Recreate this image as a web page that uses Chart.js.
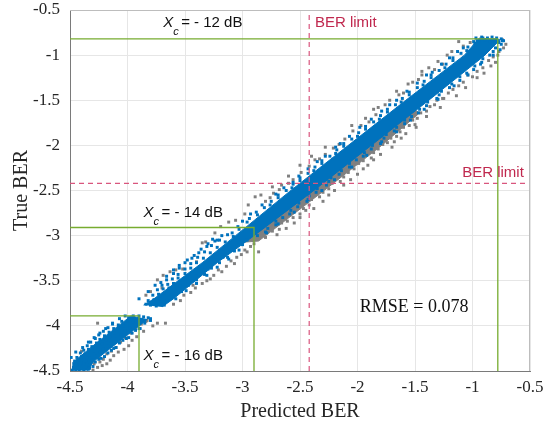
<!DOCTYPE html>
<html><head><meta charset="utf-8">
<script src="https://cdn.jsdelivr.net/npm/chart.js@4/dist/chart.umd.min.js"></script>
<style>html,body{margin:0;padding:0;background:#fff}#wrap{width:546px;height:427px}</style>
</head><body><div id="wrap"><canvas id="c" width="546" height="427"></canvas></div>
<script>
// ---------- data (predicted BER, true BER), log10 values ----------
const xTickLabels = ['-4.5','-4','-3.5','-3','-2.5','-2','-1.5','-1','-0.5'];
const yTickLabels = ['-4.5','-4','-3.5','-3','-2.5','-2','-1.5','-1','-0.5'];

const berLimit = -2.42;
const xcNames = ['= - 12 dB','= - 14 dB','= - 16 dB'];
const xcPred  = [-0.78, -2.90, -3.90];
const xcTrue  = [-0.82, -2.91, -3.89];
const rmseText = 'RMSE = 0.078';

// dense core of the blue cloud (outline of the solid region)
const blueCoreLow = [[-4.48,-4.49],[-4.34,-4.49],[-4.30,-4.40],[-4.10,-4.20],[-3.90,-4.00],[-3.83,-3.93],[-3.97,-3.89],[-4.08,-4.00],[-4.28,-4.20],[-4.48,-4.41]];
const blueCoreMain = [[-3.70,-3.79],[-3.60,-3.70],[-3.22,-3.30],[-2.92,-3.02],[-2.39,-2.51],[-1.89,-2.01],[-1.39,-1.51],[-0.90,-1.01],[-0.76,-0.83],[-0.94,-0.81],[-1.07,-1.00],[-1.58,-1.50],[-2.09,-2.01],[-2.59,-2.51],[-3.06,-3.00],[-3.35,-3.30],[-3.77,-3.70],[-3.86,-3.77]];
// dense core of the grey cloud (lower-right fringe)
const greyCore = [[-3.06,-3.08],[-2.86,-3.06],[-2.29,-2.50],[-1.79,-2.00],[-1.46,-1.64],[-1.56,-1.56],[-2.00,-2.00],[-2.50,-2.50],[-3.06,-3.06]];

const blueLowCluster = [[-4.48,-4.49],[-4.45,-4.50],[-4.42,-4.50],[-4.38,-4.49],[-4.34,-4.48],[-4.47,-4.46],[-4.43,-4.47],[-4.40,-4.45],[-4.36,-4.46],[-4.45,-4.42],[-4.41,-4.43],[-4.38,-4.41],[-4.33,-4.43],[-4.46,-4.39],[-4.42,-4.38],[-4.36,-4.39],[-4.31,-4.40],
[-4.44,-4.35],[-4.40,-4.34],[-4.35,-4.36],[-4.30,-4.35],[-4.41,-4.30],[-4.37,-4.31],[-4.33,-4.32],[-4.27,-4.33],[-4.38,-4.27],[-4.34,-4.26],[-4.29,-4.28],[-4.24,-4.29],[-4.35,-4.22],[-4.31,-4.23],[-4.26,-4.24],[-4.21,-4.26],[-4.32,-4.18],[-4.27,-4.19],[-4.22,-4.20],[-4.17,-4.22],
[-4.28,-4.14],[-4.24,-4.15],[-4.19,-4.16],[-4.14,-4.18],[-4.25,-4.10],[-4.20,-4.11],[-4.15,-4.12],[-4.10,-4.15],[-4.21,-4.06],[-4.16,-4.07],[-4.11,-4.08],[-4.06,-4.10],[-4.17,-4.02],[-4.12,-4.03],[-4.07,-4.04],[-4.02,-4.06],[-4.13,-3.98],[-4.08,-3.99],[-4.03,-4.00],[-3.98,-4.02],[-4.05,-3.95],[-4.00,-3.95],[-3.95,-3.96],[-3.90,-3.98],[-3.99,-3.91],[-3.94,-3.92],[-3.89,-3.93],[-3.85,-3.94],[-3.95,-3.89],[-3.90,-3.89],[-3.86,-3.90],[-3.82,-3.91],
[-4.33,-4.47],[-4.28,-4.40],[-4.23,-4.36],[-4.17,-4.30],[-4.12,-4.25],[-4.07,-4.19],[-4.01,-4.14],[-3.96,-4.08],[-3.90,-4.03],[-3.85,-3.97],[-3.80,-3.92],[-4.25,-4.37],[-4.14,-4.27],[-4.04,-4.16],[-3.93,-4.05],
[-4.49,-4.35],[-4.45,-4.29],[-4.39,-4.24],[-4.34,-4.18],[-4.29,-4.13],[-4.24,-4.08],[-4.19,-4.03],[-4.13,-3.97],[-4.07,-3.92],[-4.02,-3.89],[-4.30,-4.45],[-4.20,-4.34],[-4.10,-4.24],[-3.99,-4.13],[-3.89,-4.03],[-3.80,-3.94]];

const blueUpCluster = [[-3.84,-3.76],[-3.80,-3.77],[-3.75,-3.78],[-3.70,-3.76],[-3.82,-3.72],[-3.77,-3.71],[-3.72,-3.70],[-3.66,-3.72],[-3.78,-3.66],[-3.73,-3.65],[-3.68,-3.64],[-3.62,-3.66],[-3.74,-3.60],[-3.69,-3.59],[-3.64,-3.58],[-3.58,-3.61],[-3.70,-3.55],[-3.65,-3.54],[-3.60,-3.53],[-3.54,-3.56],[-3.66,-3.49],[-3.61,-3.48],[-3.56,-3.47],[-3.50,-3.51],[-3.60,-3.42],[-3.56,-3.43],[-3.50,-3.42],[-3.46,-3.46],[-3.55,-3.36],[-3.50,-3.37],[-3.45,-3.36],[-3.40,-3.41],[-3.50,-3.30],[-3.45,-3.31],[-3.40,-3.30],[-3.35,-3.36],[-3.44,-3.25],[-3.39,-3.24],[-3.34,-3.25],[-3.29,-3.30],[-3.38,-3.19],[-3.33,-3.18],[-3.28,-3.19],[-3.23,-3.24],[-3.31,-3.12],[-3.27,-3.11],[-3.22,-3.13],[-3.17,-3.18],[-3.24,-3.06],[-3.20,-3.05],[-3.15,-3.07],[-3.10,-3.12],[-3.18,-3.00],[-3.13,-2.99],[-3.08,-3.01],[-3.03,-3.07],
[-3.68,-3.77],[-3.60,-3.68],[-3.53,-3.62],[-3.47,-3.55],[-3.40,-3.49],[-3.33,-3.43],[-3.27,-3.36],[-3.20,-3.30],[-3.13,-3.24],[-3.07,-3.17],[-3.00,-3.10],[-2.96,-3.05],[-3.56,-3.63],[-3.43,-3.50],[-3.30,-3.37],[-3.17,-3.24],
[-3.90,-3.70],[-3.82,-3.62],[-3.76,-3.55],[-3.71,-3.52],[-3.66,-3.45],[-3.60,-3.38],[-3.55,-3.33],[-3.48,-3.27],[-3.42,-3.22],[-3.36,-3.15],[-3.30,-3.09],[-3.26,-3.04],[-3.58,-3.70],[-3.49,-3.61],[-3.40,-3.53],[-3.31,-3.44],[-3.22,-3.35],[-3.12,-3.26],[-3.03,-3.16]];

const blueUpperFringe = [[-3.09,-2.97],[-3.03,-2.93],[-3.04,-2.90],[-2.96,-2.85],[-2.94,-2.81],[-2.87,-2.77],[-2.88,-2.74],[-2.81,-2.69],[-2.76,-2.66],[-2.75,-2.62],[-2.69,-2.58],[-2.69,-2.55],[-2.62,-2.50],[-2.57,-2.47],[-2.56,-2.43],[-2.50,-2.39],[-2.50,-2.36],[-2.43,-2.31],[-2.38,-2.28],[-2.37,-2.24],[-2.31,-2.20],[-2.31,-2.17],[-2.24,-2.12],[-2.19,-2.09],[-2.18,-2.05],[-2.12,-2.01],[-2.12,-1.98],[-2.05,-1.93],[-2.00,-1.90],[-1.99,-1.86],[-1.93,-1.82],[-1.93,-1.79],[-1.86,-1.74],[-1.81,-1.71],[-1.80,-1.67],[-1.74,-1.63],[-1.74,-1.60],[-1.67,-1.55],[-1.62,-1.52],[-1.61,-1.48],[-1.55,-1.44],[-1.55,-1.41],[-1.48,-1.36],[-1.43,-1.33],[-1.42,-1.29],[-1.36,-1.25],[-1.36,-1.22],[-1.29,-1.17],[-1.24,-1.14],[-1.23,-1.10],[-1.17,-1.06],[-1.17,-1.03],[-1.10,-0.98],[-1.05,-0.95],[-1.04,-0.91],[-0.98,-0.87],[-0.96,-0.84],[-0.91,-0.81],
[-2.83,-2.66],[-2.51,-2.34],[-2.19,-2.02],[-1.88,-1.71],[-1.57,-1.40],[-1.27,-1.10],[-1.08,-0.92],[-3.22,-3.05],[-2.35,-2.18],[-1.72,-1.55],
[-3.00,-2.84],[-2.93,-2.76],[-2.71,-2.54],[-2.64,-2.47],[-2.43,-2.26],[-2.28,-2.12],[-2.07,-1.90],[-1.98,-1.80],[-1.79,-1.62],[-1.66,-1.50],[-1.48,-1.31],[-1.40,-1.22],[-1.20,-1.03],[-1.13,-0.96],[-2.56,-2.41],[-2.15,-1.98],[-1.35,-1.19],[-0.99,-0.85]];

const blueLowerFringe = [[-2.87,-3.00],[-2.80,-2.96],[-2.78,-2.92],[-2.71,-2.88],[-2.71,-2.84],[-2.65,-2.80],[-2.59,-2.76],[-2.58,-2.72],[-2.52,-2.68],[-2.51,-2.64],[-2.43,-2.60],[-2.42,-2.56],[-2.36,-2.52],[-2.35,-2.48],[-2.27,-2.44],[-2.25,-2.40],[-2.23,-2.36],[-2.16,-2.32],[-2.14,-2.28],[-2.07,-2.24],[-2.07,-2.20],[-2.01,-2.16],[-1.95,-2.12],[-1.94,-2.08],[-1.88,-2.04],[-1.87,-2.00],[-1.79,-1.96],[-1.77,-1.92],[-1.75,-1.88],[-1.68,-1.84],[-1.66,-1.80],[-1.59,-1.76],[-1.59,-1.72],[-1.53,-1.68],[-1.47,-1.64],[-1.46,-1.60],[-1.40,-1.56],[-1.39,-1.52],[-1.31,-1.48],[-1.29,-1.44],[-1.27,-1.40],[-1.20,-1.36],[-1.18,-1.32],[-1.11,-1.28],[-1.11,-1.24],[-1.05,-1.20],[-0.99,-1.16],[-0.98,-1.12],[-0.92,-1.08],[-0.91,-1.04],[-0.85,-1.00],[-0.82,-0.96],[-0.80,-0.92],[-0.75,-0.88],[-0.74,-0.84],
[-0.97,-0.81],[-0.92,-0.80],[-0.87,-0.81],[-0.83,-0.80],[-0.79,-0.81],[-0.75,-0.82],[-0.73,-0.84],[-0.77,-0.86],[-0.81,-0.83],[-0.89,-0.83],[-0.85,-0.85],[-0.94,-0.84],
[-2.79,-2.97],[-2.69,-2.87],[-2.55,-2.74],[-2.44,-2.62],[-2.31,-2.50],[-2.20,-2.38],[-2.05,-2.24],[-1.92,-2.11],[-1.80,-1.98],[-1.66,-1.85],[-1.54,-1.72],[-1.42,-1.60],[-1.30,-1.49],[-1.16,-1.34],[-1.04,-1.22],[-0.93,-1.10],[-0.82,-1.00],[-0.76,-0.94]];

const greyLowCluster = [[-4.30,-4.49],[-4.26,-4.46],[-4.29,-4.42],[-4.24,-4.40],[-4.21,-4.37],[-4.25,-4.34],[-4.18,-4.31],[-4.14,-4.28],[-4.19,-4.26],[-4.10,-4.24],[-4.13,-4.20],[-4.06,-4.18],[-4.09,-4.15],[-4.02,-4.13],[-4.05,-4.09],[-3.97,-4.08],[-4.00,-4.04],[-3.93,-4.02],[-3.95,-3.99],[-3.88,-3.98],[-3.84,-3.95],[-3.80,-3.93],[-3.83,-3.94],[-3.74,-3.97],[-3.67,-3.97],[-4.26,-3.97],[-4.40,-4.28],[-4.12,-4.33],[-4.35,-4.47],
[-4.22,-4.44],[-4.08,-4.29],[-3.96,-4.16],[-3.86,-4.06],[-4.18,-4.42],[-4.03,-4.26],[-3.92,-4.12],[-3.78,-4.00],[-4.15,-4.38],[-3.99,-4.22]];

const greyUpCluster = [[-3.60,-3.76],[-3.54,-3.72],[-3.51,-3.66],[-3.45,-3.63],[-3.41,-3.58],[-3.43,-3.55],[-3.35,-3.53],[-3.31,-3.50],[-3.25,-3.44],[-3.18,-3.40],[-3.14,-3.34],[-3.07,-3.31],[-3.21,-3.38],[-3.01,-3.21],[-2.98,-3.16],[-3.05,-3.24],[-2.93,-3.12],[-2.90,-3.09],[-2.96,-3.18],[-3.28,-3.48],[-3.10,-3.28],
[-3.84,-3.66],[-3.80,-3.62],[-3.74,-3.49],[-3.69,-3.44],[-3.63,-3.40],[-3.58,-3.38],[-3.40,-3.29],[-3.35,-3.08],[-3.32,-3.07],[-3.24,-2.97],[-3.19,-2.90],[-3.12,-2.85],[-3.06,-2.83],[-3.70,-3.58],[-3.52,-3.37]];

const greyMiddle = [[-2.80,-3.02],[-2.74,-2.95],[-2.68,-2.93],[-2.66,-2.86],[-2.61,-2.84],[-2.56,-2.80],[-2.50,-2.76],[-2.47,-2.70],[-2.42,-2.66],[-2.40,-2.60],[-2.33,-2.57],[-2.30,-2.52],[-2.25,-2.48],[-2.22,-2.42],[-2.15,-2.40],[-2.12,-2.35],[-2.08,-2.30],[-2.03,-2.26],[-1.99,-2.20],[-1.95,-2.17],[-1.88,-2.14],[-1.86,-2.08],[-1.82,-2.04],[-1.78,-1.99],[-2.55,-2.86],[-2.30,-2.62],[-2.06,-2.38],[-1.86,-2.16],[-2.70,-2.99],[-2.45,-2.72],[-2.20,-2.50],[-1.95,-2.26],
[-2.89,-2.57],[-2.84,-2.55],[-2.80,-2.62],[-2.76,-2.58],[-2.73,-2.53],[-2.68,-2.49],[-2.66,-2.44],[-2.60,-2.42],[-2.56,-2.38],[-2.49,-2.30],[-2.42,-2.23],[-2.33,-2.15],[-2.28,-2.10],[-2.21,-2.03],[-2.16,-1.99],[-2.11,-1.93],[-2.60,-2.34],[-2.37,-2.16],
[-1.74,-1.97],[-1.71,-1.92],[-1.66,-1.90],[-1.63,-1.85],[-1.60,-1.80],[-1.55,-1.78],[-1.52,-1.72],[-1.48,-1.70],[-1.45,-1.64],[-1.40,-1.62],[-1.37,-1.57],[-1.33,-1.55],[-1.31,-1.50],[-1.26,-1.48],[-1.58,-1.87],[-1.40,-1.68],[-1.68,-1.96],[-1.50,-1.77],
[-2.04,-1.84],[-1.97,-1.78],[-1.93,-1.70],[-1.84,-1.66],[-1.76,-1.55],[-1.72,-1.50],[-1.64,-1.44],[-1.82,-1.58],[-1.90,-1.74],[-1.60,-1.42],
[-2.62,-2.92],[-2.38,-2.70],[-2.12,-2.44],[-1.91,-2.22],[-1.70,-2.02],[-1.49,-1.80],[-1.28,-1.58],[-2.86,-3.18],[-2.50,-2.80],[-1.80,-2.10],[-1.62,-1.92],[-2.25,-2.55],[-2.00,-2.32],
[-2.95,-2.66],[-2.74,-2.46],[-2.50,-2.22],[-2.28,-2.02],[-2.05,-1.78],[-1.86,-1.60],[-1.66,-1.40],[-1.44,-1.18],[-2.98,-2.76],[-2.40,-2.12],[-1.56,-1.32]];

const greyTop = [[-1.12,-0.85],[-1.08,-0.90],[-1.22,-1.00],[-1.30,-1.07],[-1.38,-1.14],[-1.44,-1.22],[-1.52,-1.30],[-1.33,-1.16],[-1.02,-0.86],[-1.18,-0.96],[-1.26,-1.10],[-1.47,-1.27],
[-0.74,-0.83],[-0.71,-0.88],[-0.73,-0.92],[-0.77,-0.96],[-0.82,-1.02],[-0.80,-1.08],[-0.86,-1.06],[-0.91,-1.14],[-0.96,-1.18],[-1.00,-1.24],[-1.04,-1.22],[-1.08,-1.30],[-1.12,-1.34],[-1.17,-1.38],[-1.21,-1.42],[-1.25,-1.48],[-0.96,-1.25],[-1.14,-1.45],[-0.84,-1.12],[-0.78,-1.00],[-0.90,-1.20],[-1.06,-1.36]];

// ---------- styling ----------
const BLUE = '#0072BD', GREY = '#808080', GREEN = '#77AC30', LIMIT = '#D9567E', LIMIT_TXT = '#C0284E';
const SERIF = '"Liberation Serif", "Times New Roman", serif';
const SANS = '"Liberation Sans", Arial, sans-serif';
const toXY = a => a.map(p => ({x: p[0], y: p[1]}));

const pts = (arr, color, order) => ({data: toXY(arr), backgroundColor: color, borderWidth: 0, pointStyle: 'rect', pointRadius: 2.1, showLine: false, order});
const poly = (arr, color, order) => ({data: toXY(arr), backgroundColor: color, borderColor: color, borderWidth: 1, pointRadius: 0, showLine: true, fill: 'shape', tension: 0, order});
const seg = (arr, color, dash, order, w) => ({data: toXY(arr), borderColor: color, borderWidth: w, borderDash: dash, pointRadius: 0, showLine: true, fill: false, order});

const datasets = [];
datasets.push(pts(greyLowCluster.concat(greyUpCluster, greyMiddle, greyTop), GREY, 9));
datasets.push(poly(greyCore, GREY, 8));
datasets.push(poly(blueCoreLow, BLUE, 7));
datasets.push(poly(blueCoreMain, BLUE, 6));
datasets.push(pts(blueLowCluster.concat(blueUpCluster, blueUpperFringe, blueLowerFringe), BLUE, 5));
datasets.push(seg([[berLimit,-4.5],[berLimit,-0.5]], LIMIT, [5,4], 2, 1.2));
datasets.push(seg([[-4.5,berLimit],[-0.5,berLimit]], LIMIT, [5,4], 2, 1.2));
xcPred.forEach((p,i) => datasets.push(seg([[-4.5,xcTrue[i]],[p,xcTrue[i]],[p,-4.5]], GREEN, [], 1, 1.3)));

const labels = [
  {type:'xc', text: xcNames[0], x:-3.69, y:-0.645},
  {type:'xc', text: xcNames[1], x:-3.86, y:-2.75},
  {type:'xc', text: xcNames[2], x:-3.86, y:-4.33},
  {type:'limit', text:'BER limit', x:-2.37, y:-0.645},
  {type:'limit', text:'BER limit', x:-1.09, y:-2.31},
  {type:'rmse', text: rmseText, x:-1.98, y:-3.79}
];

const overlay = {
  id: 'overlay',
  afterDatasetsDraw(chart) {
    const {ctx, chartArea: a, scales: {x, y}} = chart;
    ctx.save();
    ctx.strokeStyle = '#bdbdbd'; ctx.lineWidth = 1;
    ctx.beginPath();
    ctx.moveTo(a.left, a.top + 0.5); ctx.lineTo(a.right, a.top + 0.5);
    ctx.moveTo(a.right - 0.5, a.top); ctx.lineTo(a.right - 0.5, a.bottom);
    ctx.stroke();
    ctx.textBaseline = 'middle'; ctx.textAlign = 'left';
    for (const l of labels) {
      const px = x.getPixelForValue(l.x), py = y.getPixelForValue(l.y);
      if (l.type === 'xc') {
        ctx.fillStyle = '#111';
        ctx.font = 'italic 15px ' + SANS;
        ctx.fillText('X', px, py);
        const w = ctx.measureText('X').width;
        ctx.font = 'italic 11px ' + SANS;
        ctx.fillText('c', px + w, py + 9);
        ctx.font = '15px ' + SANS;
        ctx.fillText(l.text, px + w + 8, py);
      } else if (l.type === 'limit') {
        ctx.fillStyle = LIMIT_TXT; ctx.font = '15px ' + SANS;
        ctx.fillText(l.text, px, py);
      } else {
        ctx.fillStyle = '#111'; ctx.font = '18px ' + SERIF;
        ctx.fillText(l.text, px, py);
      }
    }
    ctx.restore();
  }
};

new Chart(document.getElementById('c'), {
  type: 'scatter',
  data: {datasets},
  options: {
    responsive: false, animation: false, devicePixelRatio: 1,
    layout: {padding: {left: 0, right: 16, top: 10, bottom: 0}},
    plugins: {legend: {display: false}, tooltip: {enabled: false}},
    scales: {
      x: {
        type: 'linear', min: -4.5, max: -0.5,
        afterFit(s) { s.height = 56; s.paddingLeft = 0; s.paddingRight = 0; },
        ticks: {stepSize: 0.5, autoSkip: false, maxRotation: 0, padding: 6, color: '#262626',
          font: {family: SERIF, size: 17}, callback: (v, i) => xTickLabels[i]},
        grid: {color: '#e6e6e6', drawTicks: false},
        border: {color: '#7a7a7a'},
        title: {display: true, text: 'Predicted BER', color: '#262626', font: {family: SERIF, size: 20}, padding: {top: 0, bottom: 3}}
      },
      y: {
        type: 'linear', min: -4.5, max: -0.5,
        afterFit(s) { s.width = 70; s.paddingTop = 0; s.paddingBottom = 0; },
        ticks: {stepSize: 0.5, autoSkip: false, padding: 10, color: '#262626',
          font: {family: SERIF, size: 17}, callback: (v, i) => yTickLabels[i]},
        grid: {color: '#e6e6e6', drawTicks: false},
        border: {color: '#7a7a7a'},
        title: {display: true, text: 'True BER', color: '#262626', font: {family: SERIF, size: 20}, padding: {top: 10, bottom: 0}}
      }
    }
  },
  plugins: [overlay]
});
</script></body></html>
